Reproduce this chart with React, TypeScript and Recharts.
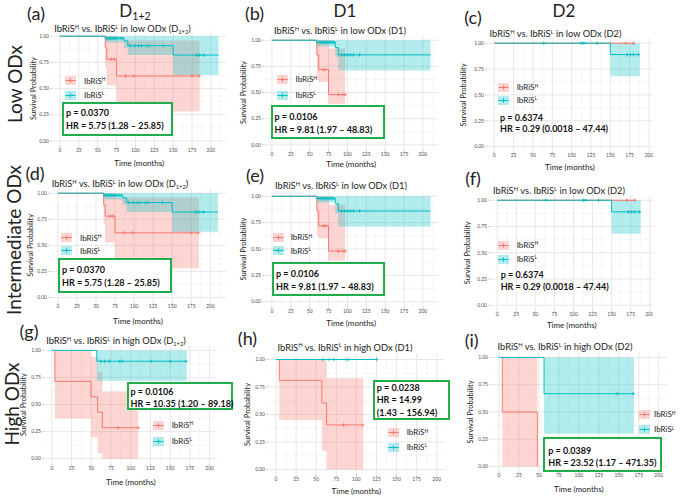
import React from "react";
import { ComposedChart, Area, Line, Scatter, XAxis, YAxis, CartesianGrid } from "recharts";

const PINK = "#F8766D";
const TEAL = "#00BFC4";
const GREEN = "#1fae4b";
const YW = 30;
const XPAD = 3;
const FONT = "Lato, 'Open Sans', sans-serif";

// axis ticks
const xTicks = [0, 25, 50, 75, 100, 125, 150, 175, 200];
const yTicks = [0, 0.25, 0.5, 0.75, 1];
const minorX = [12.5, 37.5, 62.5, 87.5, 112.5, 137.5, 162.5, 187.5, 212.5];
const minorY = [0.125, 0.375, 0.625, 0.875];

// D1+2, low ODx  (panels a, d)
const lowD12H_t = [0, 60, 62, 75, 185];
const lowD12H_s = [1, 0.89, 0.78, 0.62, 0.62];
const lowD12H_lo = [1, 0.7, 0.53, 0.28, 0.28];
const lowD12H_hi = [1, 1, 1, 0.96, 0.96];
const lowD12H_cens = [68, 72, 87, 98, 175, 184];
const lowD12L_t = [0, 60, 85, 90, 150, 210];
const lowD12L_s = [1, 0.98, 0.955, 0.91, 0.82, 0.82];
const lowD12L_lo = [1, 0.94, 0.89, 0.82, 0.63, 0.63];
const lowD12L_hi = [1, 1, 1, 1, 1, 1];
const lowD12L_cens = [62, 64, 66, 68, 70, 72, 74, 77, 80, 83, 93, 99, 104, 108, 115, 118, 137, 181, 185, 191];

// D1, low ODx  (panels b, e)
const lowD1H_t = [0, 59.5, 62, 75, 97];
const lowD1H_s = [1, 0.86, 0.72, 0.48, 0.48];
const lowD1H_lo = [1, 0.62, 0.6, 0.39, 0.39];
const lowD1H_hi = [1, 1, 1, 0.92, 0.92];
const lowD1H_cens = [68, 71, 88, 94, 97];
const lowD1L_t = [0, 59, 84, 88, 210];
const lowD1L_s = [1, 0.98, 0.93, 0.86, 0.86];
const lowD1L_lo = [1, 0.94, 0.84, 0.71, 0.71];
const lowD1L_hi = [1, 1, 1, 1, 1];
const lowD1L_cens = [62, 64, 66, 68, 70, 72, 74, 76, 78, 80, 82, 92, 96, 100, 104, 108, 116];

// D2, low ODx  (panels c, f)
const lowD2H_t = [0, 182];
const lowD2H_s = [1, 1];
const lowD2H_lo = [1, 1];
const lowD2H_hi = [1, 1];
const lowD2H_cens = [170, 180];
const lowD2L_t = [0, 150, 188];
const lowD2L_s = [1, 0.89, 0.89];
const lowD2L_lo = [1, 0.68, 0.68];
const lowD2L_hi = [1, 1, 1];
const lowD2L_cens = [64, 113, 116, 133, 172, 176, 180, 186];

// D1+2, high ODx  (panel g)
const highD12H_t = [0, 3.8, 49.5, 58, 64, 109.5];
const highD12H_s = [1, 0.714, 0.571, 0.429, 0.286, 0.286];
const highD12H_lo = [1, 0.37, 0.2, 0.05, 0, 0];
const highD12H_hi = [1, 1, 0.94, 0.8, 0.62, 0.62];
const highD12H_cens = [84, 109.5];
const highD12L_t = [0, 57, 171];
const highD12L_s = [1, 0.9, 0.9];
const highD12L_lo = [1, 0.72, 0.72];
const highD12L_hi = [1, 1, 1];
const highD12L_cens = [62, 67, 73, 86, 89, 126, 150, 170];

// D1, high ODx  (panel h)
const highD1H_t = [0, 4, 57, 63, 108.7];
const highD1H_s = [1, 0.81, 0.605, 0.405, 0.405];
const highD1H_lo = [1, 0.45, 0.17, 0, 0];
const highD1H_hi = [1, 1, 1, 0.83, 0.83];
const highD1H_cens = [84, 108];
const highD1L_t = [0, 125];
const highD1L_s = [1, 1];
const highD1L_lo = [1, 1];
const highD1L_hi = [1, 1];
const highD1L_cens = [58, 66, 72, 87, 90, 125];

// D2, high ODx  (panel i)
const highD2H_t = [0, 4.2, 48];
const highD2H_s = [1, 0.5, 0];
const highD2H_lo = [1, 0, 0];
const highD2H_hi = [1, 1, 0];
const highD2H_cens: number[] = [];
const highD2L_t = [0, 56.4, 169];
const highD2L_s = [1, 0.667, 0.667];
const highD2L_lo = [1, 0.3, 0.3];
const highD2L_hi = [1, 1, 1];
const highD2L_cens = [148, 168];

// stats text
const statsLowD12 = ["p = 0.0370", "HR = 5.75 (1.28 \u2013 25.85)"];
const statsLowD1 = ["p = 0.0106", "HR = 9.81 (1.97 \u2013 48.83)"];
const statsLowD2 = ["p = 0.6374", "HR = 0.29 (0.0018 \u2013 47.44)"];
const statsHighD12 = ["p = 0.0106", "HR = 10.35 (1.20 \u2013 89.18)"];
const statsHighD1 = ["p = 0.0238", "HR = 14.99", "(1.43 \u2013 156.94)"];
const statsHighD2 = ["p = 0.0389", "HR = 23.52 (1.17 \u2013 471.35)"];

type Curve = { t: number[]; s: number[]; lo: number[]; hi: number[]; cens: number[] };

const lowD12H: Curve = { t: lowD12H_t, s: lowD12H_s, lo: lowD12H_lo, hi: lowD12H_hi, cens: lowD12H_cens };
const lowD12L: Curve = { t: lowD12L_t, s: lowD12L_s, lo: lowD12L_lo, hi: lowD12L_hi, cens: lowD12L_cens };
const lowD1H: Curve = { t: lowD1H_t, s: lowD1H_s, lo: lowD1H_lo, hi: lowD1H_hi, cens: lowD1H_cens };
const lowD1L: Curve = { t: lowD1L_t, s: lowD1L_s, lo: lowD1L_lo, hi: lowD1L_hi, cens: lowD1L_cens };
const lowD2H: Curve = { t: lowD2H_t, s: lowD2H_s, lo: lowD2H_lo, hi: lowD2H_hi, cens: lowD2H_cens };
const lowD2L: Curve = { t: lowD2L_t, s: lowD2L_s, lo: lowD2L_lo, hi: lowD2L_hi, cens: lowD2L_cens };
const highD12H: Curve = { t: highD12H_t, s: highD12H_s, lo: highD12H_lo, hi: highD12H_hi, cens: highD12H_cens };
const highD12L: Curve = { t: highD12L_t, s: highD12L_s, lo: highD12L_lo, hi: highD12L_hi, cens: highD12L_cens };
const highD1H: Curve = { t: highD1H_t, s: highD1H_s, lo: highD1H_lo, hi: highD1H_hi, cens: highD1H_cens };
const highD1L: Curve = { t: highD1L_t, s: highD1L_s, lo: highD1L_lo, hi: highD1L_hi, cens: highD1L_cens };
const highD2H: Curve = { t: highD2H_t, s: highD2H_s, lo: highD2H_lo, hi: highD2H_hi, cens: highD2H_cens };
const highD2L: Curve = { t: highD2L_t, s: highD2L_s, lo: highD2L_lo, hi: highD2L_hi, cens: highD2L_cens };

function rows(c: Curve) {
  return c.t.map((t, i) => ({ t, s: c.s[i], band: [c.lo[i], c.hi[i]] }));
}

// censor marks sit on the step curve
function censRows(c: Curve) {
  return c.cens.map((t) => {
    let v = c.s[0];
    c.t.forEach((tt, i) => {
      if (tt <= t) v = c.s[i];
    });
    return { t, s: v };
  });
}

const plus = (color: string) => (props: any) => {
  const { cx, cy } = props;
  if (cx == null || cy == null) return <g />;
  return (
    <g>
      <line x1={cx - 1.8} x2={cx + 1.8} y1={cy} y2={cy} stroke={color} strokeWidth={0.8} />
      <line x1={cx} x2={cx} y1={cy - 1.8} y2={cy + 1.8} stroke={color} strokeWidth={0.8} />
    </g>
  );
};

const Sup = ({ children }: { children: React.ReactNode }) => (
  <span style={{ fontSize: "0.62em", position: "relative", top: "-0.55em" }}>{children}</span>
);
const Sub = ({ children }: { children: React.ReactNode }) => (
  <span style={{ fontSize: "0.62em", position: "relative", top: "0.3em" }}>{children}</span>
);

type PanelCfg = {
  id: string;
  plot: [number, number, number, number];
  xDom: [number, number];
  xh: number;
  ylab: number;
  H: Curve;
  L: Curve;
  grp: string;
  dname: string;
  tc: [number, number];
  letter: [number, number];
  legend: { kx: number; y: [number, number]; tx: number };
  stats: string[];
  sx: number;
  sy: number[];
  box: [number, number, number, number] | null;
};

// ylab = distance of the y title from the left of the plot area
const panels: PanelCfg[] = [
  {
    id: "a", plot: [52.1, 30.8, 174.4, 115.1], xDom: [-10.5, 220.5], xh: 19.6, ylab: 19,
    H: lowD12H, L: lowD12L, grp: "low", dname: "D12", tc: [122.5, 29], letter: [36, 13.3],
    legend: { kx: 65, y: [80.7, 95], tx: 84 }, stats: statsLowD12, sx: 66, sy: [111.7, 125],
    box: [62.3, 101.7, 111, 34],
  },
  {
    id: "b", plot: [263.8, 35.1, 174.4, 115.1], xDom: [-10.5, 220.5], xh: 17.3, ylab: 21,
    H: lowD1H, L: lowD1L, grp: "low", dname: "D1", tc: [340, 30.8], letter: [254.5, 13.3],
    legend: { kx: 277, y: [79.3, 95], tx: 295.5 }, stats: statsLowD1, sx: 274.5, sy: [116, 129],
    box: [271, 105, 114, 33.5],
  },
  {
    id: "c", plot: [487, 38.1, 165.9, 113.8], xDom: [-9.4, 205], xh: 18.6, ylab: 24,
    H: lowD2H, L: lowD2L, grp: "low", dname: "D2", tc: [555.5, 34], letter: [473, 16.7],
    legend: { kx: 497.7, y: [87.3, 100], tx: 516.7 }, stats: statsLowD2, sx: 500, sy: [116.7, 128.3],
    box: null,
  },
  {
    id: "d", plot: [49.7, 187.5, 175.9, 114.7], xDom: [-10.5, 220.5], xh: 21.3, ylab: 20,
    H: lowD12H, L: lowD12L, grp: "low", dname: "D12", tc: [120, 184], letter: [35, 172.5],
    legend: { kx: 61, y: [237.7, 250.7], tx: 80 }, stats: statsLowD12, sx: 62, sy: [269, 281.7],
    box: [58.3, 257.7, 113.4, 35],
  },
  {
    id: "e", plot: [263.8, 191, 174.4, 116], xDom: [-10.5, 220.5], xh: 18.8, ylab: 21,
    H: lowD1H, L: lowD1L, grp: "low", dname: "D1", tc: [341, 186], letter: [255, 175],
    legend: { kx: 272.7, y: [237.3, 250.7], tx: 290.7 }, stats: statsLowD1, sx: 276, sy: [273.3, 285.7],
    box: [272.3, 262.3, 112.7, 33.7],
  },
  {
    id: "f", plot: [489.5, 194.75, 163.6, 115.5], xDom: [-9.4, 205], xh: 18, ylab: 23,
    H: lowD2H, L: lowD2L, grp: "low", dname: "D2", tc: [559, 191], letter: [473, 178.3],
    legend: { kx: 497.7, y: [245, 259], tx: 516.7 }, stats: statsLowD2, sx: 500.7, sy: [274.3, 286],
    box: null,
  },
  {
    id: "g", plot: [44.4, 344.6, 173.5, 119.1], xDom: [-10, 210], xh: 20.5, ylab: 21,
    H: highD12H, L: highD12L, grp: "high", dname: "D12", tc: [116, 341], letter: [29, 331],
    legend: { kx: 152.7, y: [425, 441], tx: 171.7 }, stats: statsHighD12, sx: 130.5, sy: [390.7, 403.3],
    box: [127.3, 381.7, 106, 28.3],
  },
  {
    id: "h", plot: [268, 353.5, 176.8, 121], xDom: [-10, 210], xh: 18.7, ylab: 21,
    H: highD1H, L: highD1L, grp: "high", dname: "D1", tc: [345, 347.5], letter: [247.5, 338],
    legend: { kx: 388.3, y: [432.3, 447], tx: 406.7 }, stats: statsHighD1, sx: 376.7, sy: [386.7, 399, 411.7],
    box: [373.3, 380, 76.7, 40],
  },
  {
    id: "i", plot: [491.3, 352.25, 175.7, 119.9], xDom: [-10, 210], xh: 20.3, ylab: 20.6,
    H: highD2H, L: highD2L, grp: "high", dname: "D2", tc: [565, 346.7], letter: [471.7, 340],
    legend: { kx: 639, y: [414.3, 429.3], tx: 654 }, stats: statsHighD2, sx: 548.3, sy: [450, 461.7],
    box: [543.3, 436.7, 118.4, 35],
  },
];

function DName({ d }: { d: string }) {
  if (d === "D12") return <>D<Sub>1+2</Sub></>;
  return <>{d}</>;
}

function Txt({ x, y, size, children, weight = 400, align = "center", rotate = 0, color = "#222" }: any) {
  const tx = align === "center" ? "-50%" : "0";
  return (
    <div
      style={{
        position: "absolute", left: x, top: y, fontSize: size, fontWeight: weight, color,
        whiteSpace: "nowrap", lineHeight: 1,
        transform: `translate(${tx}, -50%)${rotate ? ` rotate(${rotate}deg)` : ""}`,
        transformOrigin: align === "center" ? "50% 50%" : "0 50%",
      }}
    >
      {children}
    </div>
  );
}

function LegendKey({ color }: { color: string }) {
  return (
    <svg width={11} height={9} style={{ display: "block" }}>
      <rect x={0} y={0} width={11} height={9} fill={color} fillOpacity={0.3} />
      <line x1={0.5} y1={4.5} x2={10.5} y2={4.5} stroke={color} strokeWidth={1} />
      <line x1={5.5} y1={2.4} x2={5.5} y2={6.6} stroke={color} strokeWidth={1} />
    </svg>
  );
}

function KMPanel({ p }: { p: PanelCfg }) {
  const [left, top, w, h] = p.plot;
  const xh = p.xh + XPAD;
  const minorXs = minorX.filter((v) => v < p.xDom[1]);
  const hRows = rows(p.H);
  const lRows = rows(p.L);
  return (
    <>
      <div style={{ position: "absolute", left: left - YW, top }}>
        <ComposedChart width={w + YW} height={h + xh} margin={{ top: 0, right: 0, bottom: 0, left: 0 }}>
          <CartesianGrid verticalValues={minorXs} horizontalValues={minorY} stroke="#f2f2f2" strokeWidth={0.6} />
          <CartesianGrid verticalValues={xTicks} horizontalValues={yTicks} stroke="#e4e4e4" strokeWidth={0.9} />
          <XAxis
            dataKey="t" type="number" domain={p.xDom} ticks={xTicks} interval={0} height={xh}
            axisLine={false} tickSize={2} tickMargin={0} allowDataOverflow
            tick={{ fontSize: 5, fill: "#4d4d4d", fontFamily: FONT }}
            tickLine={{ stroke: "#999", strokeWidth: 0.5 }}
            label={{ value: "Time (months)", position: "insideBottom", offset: XPAD, style: { fontSize: 8, fill: "#222", fontFamily: FONT } }}
          />
          <YAxis
            type="number" domain={[-0.05, 1.05]} ticks={yTicks} interval={0} width={YW}
            axisLine={false} tickSize={2} tickMargin={1} allowDataOverflow
            tickFormatter={(v: number) => v.toFixed(2)}
            tick={{ fontSize: 5, fill: "#4d4d4d", fontFamily: FONT }}
            tickLine={{ stroke: "#999", strokeWidth: 0.5 }}
            label={{
              value: "Survival Probability", angle: -90, position: "insideLeft", offset: YW - p.ylab,
              style: { textAnchor: "middle", fontSize: 7.5, fill: "#222", fontFamily: FONT },
            }}
          />
          <Area data={hRows} dataKey="band" type="stepAfter" stroke="none" fill={PINK} fillOpacity={0.3} isAnimationActive={false} />
          <Area data={lRows} dataKey="band" type="stepAfter" stroke="none" fill={TEAL} fillOpacity={0.3} isAnimationActive={false} />
          <Line data={hRows} dataKey="s" type="stepAfter" stroke={PINK} strokeWidth={1} dot={false} activeDot={false} isAnimationActive={false} />
          <Line data={lRows} dataKey="s" type="stepAfter" stroke={TEAL} strokeWidth={1} dot={false} activeDot={false} isAnimationActive={false} />
          <Scatter data={censRows(p.H)} dataKey="s" fill={PINK} shape={plus(PINK)} isAnimationActive={false} />
          <Scatter data={censRows(p.L)} dataKey="s" fill={TEAL} shape={plus(TEAL)} isAnimationActive={false} />
        </ComposedChart>
      </div>

      <Txt x={p.tc[0]} y={p.tc[1]} size={9.3}>
        IbRiS<Sup>H</Sup> vs. IbRiS<Sup>L</Sup> in {p.grp} ODx (<DName d={p.dname} />)
      </Txt>
      <Txt x={p.letter[0]} y={p.letter[1]} size={18}>({p.id})</Txt>

      {[PINK, TEAL].map((c, i) => (
        <React.Fragment key={c}>
          <div style={{ position: "absolute", left: p.legend.kx, top: p.legend.y[i] - 4.5 }}>
            <LegendKey color={c} />
          </div>
          <Txt x={p.legend.tx} y={p.legend.y[i]} size={8} align="left">
            IbRiS<Sup>{i === 0 ? "H" : "L"}</Sup>
          </Txt>
        </React.Fragment>
      ))}

      {p.box && (
        <div
          style={{
            position: "absolute", left: p.box[0], top: p.box[1], width: p.box[2], height: p.box[3],
            boxSizing: "border-box", border: `2.6px solid ${GREEN}`, background: "#fff",
          }}
        />
      )}
      {p.stats.map((s, i) => (
        <Txt key={s} x={p.sx} y={p.sy[i]} size={9} weight={700} align="left" color="#111">
          {s}
        </Txt>
      ))}
    </>
  );
}

export default function App() {
  return (
    <div
      style={{
        position: "absolute", left: 0, top: 0, width: 682, height: 496, overflow: "hidden",
        background: "#fff", fontFamily: FONT, color: "#222",
      }}
    >
      {panels.map((p) => (
        <KMPanel key={p.id} p={p} />
      ))}

      <Txt x={135} y={10} size={17}>D<Sub>1+2</Sub></Txt>
      <Txt x={345} y={10} size={17}>D1</Txt>
      <Txt x={564} y={10} size={17}>D2</Txt>

      <Txt x={13.5} y={83.5} size={19} rotate={-90}>Low ODx</Txt>
      <Txt x={13} y={240} size={19} rotate={-90}>Intermediate ODx</Txt>
      <Txt x={11} y={403.5} size={19} rotate={-90}>High ODx</Txt>
    </div>
  );
}
